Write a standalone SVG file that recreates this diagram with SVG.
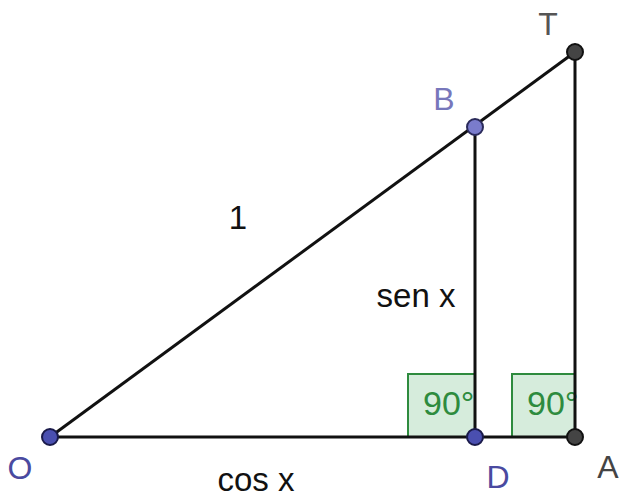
<svg xmlns="http://www.w3.org/2000/svg" width="621" height="499" viewBox="0 0 621 499">
<style>
.ln{stroke:#111;stroke-width:3;fill:none}
.ang{fill:#d6ecdc;stroke:#2e8b3e;stroke-width:2}
.angt{font-family:"Liberation Sans",Arial,sans-serif;font-size:34px;fill:#2e8b3e}
.lbl{font-family:"Liberation Sans",Arial,sans-serif;font-size:32px}
.txt{font-family:"Liberation Sans",Arial,sans-serif;font-size:33px;fill:#111}
</style>
<rect width="621" height="499" fill="#fff"/>
<g id="angles">
<g id="angD"><rect class="ang" x="408" y="374" width="67" height="63"/><text class="angt" x="423" y="415">90°</text></g>
<g id="angA"><rect class="ang" x="512" y="374" width="63" height="63"/><text class="angt" x="527" y="415">90°</text></g>
</g>
<g id="connectors">
<line class="ln" x1="50" y1="437" x2="575" y2="437"/>
<line class="ln" x1="50" y1="437" x2="575" y2="52"/>
<line class="ln" x1="475" y1="127" x2="475" y2="437"/>
<line class="ln" x1="575" y1="52" x2="575" y2="437"/>
</g>
<g id="O"><circle cx="50" cy="437" r="8" fill="#4a4fb0" stroke="#1a1a4a" stroke-width="2"/><text class="lbl" x="20" y="479" text-anchor="middle" fill="#4a4aa0">O</text></g>
<g id="D"><circle cx="475" cy="437" r="8" fill="#4a4fb0" stroke="#1a1a4a" stroke-width="2"/><text class="lbl" x="498" y="488" text-anchor="middle" fill="#4a4aa0">D</text></g>
<g id="A"><circle cx="575" cy="437" r="8" fill="#444" stroke="#111" stroke-width="2"/><text class="lbl" x="608" y="478" text-anchor="middle" fill="#444">A</text></g>
<g id="B"><circle cx="475" cy="127" r="8" fill="#7a7ccc" stroke="#2a2a5a" stroke-width="2"/><text class="lbl" x="444" y="110" text-anchor="middle" fill="#7777bb">B</text></g>
<g id="T"><circle cx="575" cy="52" r="8" fill="#444" stroke="#111" stroke-width="2"/><text class="lbl" x="548" y="35" text-anchor="middle" fill="#555">T</text></g>
<g id="labels">
<text class="txt" x="238" y="229" text-anchor="middle">1</text>
<text class="txt" x="416" y="307" text-anchor="middle">sen x</text>
<text class="txt" x="256" y="491" text-anchor="middle" font-size="32">cos x</text>
</g>
</svg>
